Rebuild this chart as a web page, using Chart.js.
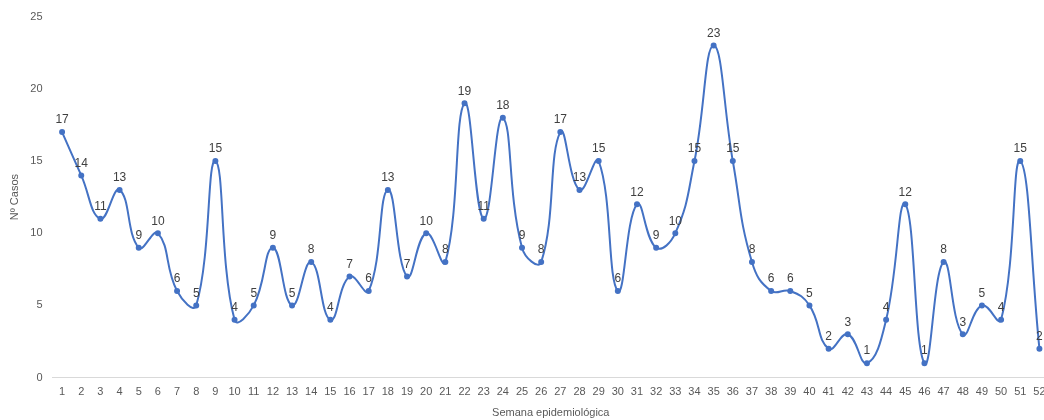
<!DOCTYPE html>
<html lang="es">
<head>
<meta charset="UTF-8">
<title>Casos por semana epidemiológica</title>
<script src="https://cdn.jsdelivr.net/npm/chart.js"></script>
<style>
    body { margin: 0; background: #fff; overflow: hidden; }
    .wrap { width: 1054px; height: 420px; position: relative; }
</style>
</head>
<body>
<div class="wrap"><canvas id="chart"></canvas></div>
<script>
// semanas epidemiológicas 1..52
const semanas = [];
for (let i = 1; i <= 52; i++) semanas.push(String(i));

const casos = [17, 14, 11, 13, 9, 10, 6, 5, 15, 4, 5, 9, 5, 8, 4, 7, 6, 13, 7, 10,
               8, 19, 11, 18, 9, 8, 17, 13, 15, 6, 12, 9, 10, 15, 23, 15, 8, 6, 6, 5,
               2, 3, 1, 4, 12, 1, 8, 3, 5, 4, 15, 2];

const yTicks = [0, 5, 10, 15, 20, 25];

// etiquetas de valor sobre cada punto
const valueLabels = {
    id: "valueLabels",
    afterDatasetsDraw(chart) {
        const ctx = chart.ctx;
        const meta = chart.getDatasetMeta(0);
        ctx.save();
        ctx.font = "12px 'Liberation Sans', Arial, sans-serif";
        ctx.fillStyle = "#404040";
        ctx.textAlign = "center";
        ctx.textBaseline = "bottom";
        meta.data.forEach((pt, i) => {
            ctx.fillText(casos[i], pt.x, pt.y - 6);
        });
        ctx.restore();
    }
};

new Chart(document.getElementById("chart"), {
    type: "line",
    data: {
        labels: semanas,
        datasets: [{
            data: casos,
            borderColor: "#4472C4",
            backgroundColor: "#4472C4",
            borderWidth: 2,
            pointRadius: 2,
            pointHoverRadius: 3,
            tension: 0.45,
            fill: false
        }]
    },
    options: {
        responsive: true,
        maintainAspectRatio: false,
        animation: false,
        layout: { padding: { top: 12, left: 8, right: 0, bottom: 0 } },
        plugins: {
            legend: { display: false },
            tooltip: { enabled: false }
        },
        scales: {
            x: {
                offset: true,
                grid: { display: false, drawTicks: false },
                border: { color: "#d9d9d9", width: 1 },
                ticks: {
                    color: "#595959",
                    font: { size: 11, family: "'Liberation Sans', Arial, sans-serif" },
                    maxRotation: 0,
                    autoSkip: false,
                    padding: 8
                },
                title: {
                    display: true,
                    text: "Semana epidemiológica",
                    color: "#595959",
                    font: { size: 11, family: "'Liberation Sans', Arial, sans-serif" },
                    padding: { top: 0, bottom: 0 }
                }
            },
            y: {
                min: 0,
                max: 25,
                afterBuildTicks(axis) { axis.ticks = yTicks.map(v => ({ value: v })); },
                afterFit(axis) { axis.width = 44.5; },
                grid: { display: false, drawTicks: false },
                border: { display: false },
                ticks: {
                    color: "#595959",
                    font: { size: 11, family: "'Liberation Sans', Arial, sans-serif" },
                    padding: 10
                },
                title: {
                    display: true,
                    text: "Nº Casos",
                    color: "#595959",
                    font: { size: 11, family: "'Liberation Sans', Arial, sans-serif" },
                    padding: { top: 0, bottom: 4 }
                }
            }
        }
    },
    plugins: [valueLabels]
});
</script>
</body>
</html>
